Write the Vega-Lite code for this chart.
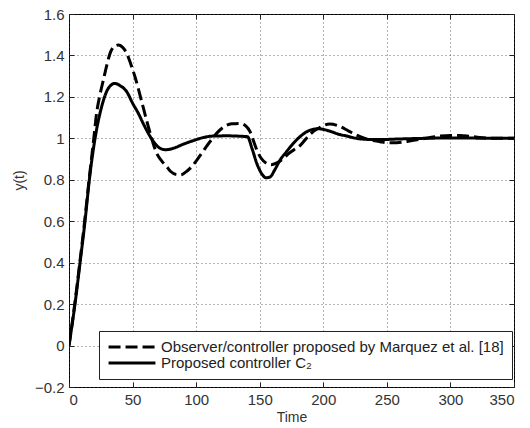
{
  "$schema": "https://vega.github.io/schema/vega-lite/v6.json",
  "width": 445,
  "height": 373,
  "autosize": {"type": "none"},
  "padding": {"left": 69, "top": 14, "right": 16, "bottom": 41},
  "background": "white",
  "config": {
    "view": {"stroke": "black", "strokeWidth": 1},
    "font": "Liberation Sans",
    "axis": {
      "labelFont": "Liberation Sans",
      "labelFontSize": 15,
      "labelColor": "#333",
      "titleFont": "Liberation Sans",
      "titleFontSize": 14,
      "titleFontWeight": "normal",
      "titleColor": "#333",
      "domain": false,
      "tickColor": "#222",
      "tickSize": -5,
      "labelPadding": 10,
      "gridColor": "#444",
      "gridDash": [1, 3],
      "gridOpacity": 0.8,
      "gridWidth": 1
    }
  },
  "data": {
    "values": [
      {"t": 0, "y": 0, "s": "A"},
      {"t": 4.5, "y": 0.2, "s": "A"},
      {"t": 8.5, "y": 0.4, "s": "A"},
      {"t": 12.3, "y": 0.6, "s": "A"},
      {"t": 15.8, "y": 0.8, "s": "A"},
      {"t": 19.5, "y": 1.0, "s": "A"},
      {"t": 21.7, "y": 1.121, "s": "A"},
      {"t": 24, "y": 1.2, "s": "A"},
      {"t": 27, "y": 1.281, "s": "A"},
      {"t": 30, "y": 1.36, "s": "A"},
      {"t": 32.3, "y": 1.41, "s": "A"},
      {"t": 35, "y": 1.44, "s": "A"},
      {"t": 38.8, "y": 1.45, "s": "A"},
      {"t": 42, "y": 1.44, "s": "A"},
      {"t": 45.4, "y": 1.41, "s": "A"},
      {"t": 48.5, "y": 1.36, "s": "A"},
      {"t": 51.9, "y": 1.297, "s": "A"},
      {"t": 57.2, "y": 1.177, "s": "A"},
      {"t": 62.4, "y": 1.056, "s": "A"},
      {"t": 69, "y": 0.928, "s": "A"},
      {"t": 73, "y": 0.89, "s": "A"},
      {"t": 76.9, "y": 0.863, "s": "A"},
      {"t": 80, "y": 0.84, "s": "A"},
      {"t": 84.7, "y": 0.825, "s": "A"},
      {"t": 88, "y": 0.824, "s": "A"},
      {"t": 92, "y": 0.838, "s": "A"},
      {"t": 95.2, "y": 0.855, "s": "A"},
      {"t": 100, "y": 0.89, "s": "A"},
      {"t": 104.4, "y": 0.928, "s": "A"},
      {"t": 108, "y": 0.96, "s": "A"},
      {"t": 112.3, "y": 0.995, "s": "A"},
      {"t": 117, "y": 1.03, "s": "A"},
      {"t": 122.7, "y": 1.059, "s": "A"},
      {"t": 128, "y": 1.07, "s": "A"},
      {"t": 134.5, "y": 1.072, "s": "A"},
      {"t": 139, "y": 1.06, "s": "A"},
      {"t": 142.4, "y": 1.032, "s": "A"},
      {"t": 145, "y": 0.99, "s": "A"},
      {"t": 147.7, "y": 0.944, "s": "A"},
      {"t": 151, "y": 0.905, "s": "A"},
      {"t": 155.5, "y": 0.879, "s": "A"},
      {"t": 159, "y": 0.873, "s": "A"},
      {"t": 163, "y": 0.88, "s": "A"},
      {"t": 168, "y": 0.9, "s": "A"},
      {"t": 172.5, "y": 0.925, "s": "A"},
      {"t": 177, "y": 0.945, "s": "A"},
      {"t": 181.7, "y": 0.965, "s": "A"},
      {"t": 186, "y": 0.995, "s": "A"},
      {"t": 192, "y": 1.032, "s": "A"},
      {"t": 198, "y": 1.055, "s": "A"},
      {"t": 205, "y": 1.069, "s": "A"},
      {"t": 212, "y": 1.06, "s": "A"},
      {"t": 220, "y": 1.035, "s": "A"},
      {"t": 226, "y": 1.016, "s": "A"},
      {"t": 235, "y": 0.995, "s": "A"},
      {"t": 244.7, "y": 0.984, "s": "A"},
      {"t": 251, "y": 0.979, "s": "A"},
      {"t": 257.8, "y": 0.979, "s": "A"},
      {"t": 266, "y": 0.985, "s": "A"},
      {"t": 276, "y": 0.995, "s": "A"},
      {"t": 284, "y": 1.004, "s": "A"},
      {"t": 292, "y": 1.011, "s": "A"},
      {"t": 300, "y": 1.014, "s": "A"},
      {"t": 307.6, "y": 1.014, "s": "A"},
      {"t": 315, "y": 1.01, "s": "A"},
      {"t": 323, "y": 1.004, "s": "A"},
      {"t": 335, "y": 1.0, "s": "A"},
      {"t": 350, "y": 1.0, "s": "A"},
      {"t": 0, "y": 0, "s": "B"},
      {"t": 4.7, "y": 0.2, "s": "B"},
      {"t": 8.7, "y": 0.4, "s": "B"},
      {"t": 12.6, "y": 0.6, "s": "B"},
      {"t": 16, "y": 0.8, "s": "B"},
      {"t": 20.5, "y": 1.0, "s": "B"},
      {"t": 25.7, "y": 1.153, "s": "B"},
      {"t": 30.9, "y": 1.241, "s": "B"},
      {"t": 36, "y": 1.265, "s": "B"},
      {"t": 40, "y": 1.255, "s": "B"},
      {"t": 45.4, "y": 1.225, "s": "B"},
      {"t": 50, "y": 1.17, "s": "B"},
      {"t": 54.5, "y": 1.121, "s": "B"},
      {"t": 58.5, "y": 1.07, "s": "B"},
      {"t": 62.4, "y": 1.024, "s": "B"},
      {"t": 67, "y": 0.98, "s": "B"},
      {"t": 71.6, "y": 0.952, "s": "B"},
      {"t": 76, "y": 0.945, "s": "B"},
      {"t": 82, "y": 0.952, "s": "B"},
      {"t": 90, "y": 0.972, "s": "B"},
      {"t": 97.8, "y": 0.989, "s": "B"},
      {"t": 105, "y": 1.003, "s": "B"},
      {"t": 113.5, "y": 1.011, "s": "B"},
      {"t": 125, "y": 1.012, "s": "B"},
      {"t": 135, "y": 1.01, "s": "B"},
      {"t": 140.3, "y": 1.008, "s": "B"},
      {"t": 144, "y": 0.95, "s": "B"},
      {"t": 147.7, "y": 0.879, "s": "B"},
      {"t": 151, "y": 0.835, "s": "B"},
      {"t": 155, "y": 0.81, "s": "B"},
      {"t": 158, "y": 0.813, "s": "B"},
      {"t": 162, "y": 0.85, "s": "B"},
      {"t": 166, "y": 0.895, "s": "B"},
      {"t": 171, "y": 0.935, "s": "B"},
      {"t": 176.5, "y": 0.976, "s": "B"},
      {"t": 181.7, "y": 1.008, "s": "B"},
      {"t": 188, "y": 1.035, "s": "B"},
      {"t": 196, "y": 1.046, "s": "B"},
      {"t": 205, "y": 1.035, "s": "B"},
      {"t": 212, "y": 1.02, "s": "B"},
      {"t": 218.5, "y": 1.011, "s": "B"},
      {"t": 226, "y": 1.0, "s": "B"},
      {"t": 234, "y": 0.995, "s": "B"},
      {"t": 245, "y": 0.994, "s": "B"},
      {"t": 260, "y": 0.997, "s": "B"},
      {"t": 280, "y": 1.0, "s": "B"},
      {"t": 300, "y": 1.002, "s": "B"},
      {"t": 320, "y": 1.001, "s": "B"},
      {"t": 350, "y": 1.0, "s": "B"}
    ]
  },
  "layer": [
    {
      "mark": {"type": "line", "interpolate": "monotone", "strokeWidth": 3, "color": "black", "clip": true},
      "encoding": {
        "x": {
          "field": "t", "type": "quantitative",
          "scale": {"domain": [0, 350], "nice": false},
          "axis": {"values": [0, 50, 100, 150, 200, 250, 300, 350], "title": "Time", "titlePadding": 3}
        },
        "y": {
          "field": "y", "type": "quantitative",
          "scale": {"domain": [-0.2, 1.6], "nice": false, "zero": false},
          "axis": {"values": [-0.2, 0, 0.2, 0.4, 0.6, 0.8, 1, 1.2, 1.4, 1.6], "format": "~g", "title": "y(t)", "titlePadding": 8, "titleY": 166}
        },
        "strokeDash": {
          "field": "s", "type": "nominal",
          "scale": {"domain": ["A", "B"], "range": [[12, 5], [1, 0]]},
          "legend": {
            "title": null,
            "orient": "none",
            "legendX": 30,
            "legendY": 317,
            "fillColor": "white",
            "strokeColor": "#222",
            "padding": 8,
            "clipHeight": 16,
            "symbolType": "stroke",
            "symbolSize": 2200,
            "symbolStrokeWidth": 3,
            "symbolStrokeColor": "black",
            "labelFont": "Liberation Sans",
            "labelFontSize": 15,
            "labelColor": "#222",
            "labelOffset": 4,
            "labelLimit": 500,
            "rowPadding": 0,
            "labelExpr": "datum.label == 'A' ? 'Observer/controller proposed by Marquez et al. [18]' : 'Proposed controller C₂'"
          }
        }
      }
    },
    {
      "mark": {"type": "line", "opacity": 0},
      "encoding": {
        "x": {
          "field": "t", "type": "quantitative",
          "axis": {"orient": "top", "values": [0, 50, 100, 150, 200, 250, 300, 350], "labels": false, "grid": false, "title": null}
        },
        "y": {
          "field": "y", "type": "quantitative",
          "axis": {"orient": "right", "values": [-0.2, 0, 0.2, 0.4, 0.6, 0.8, 1, 1.2, 1.4, 1.6], "labels": false, "grid": false, "title": null}
        }
      }
    }
  ],
  "resolve": {"axis": {"x": "independent", "y": "independent"}}
}
